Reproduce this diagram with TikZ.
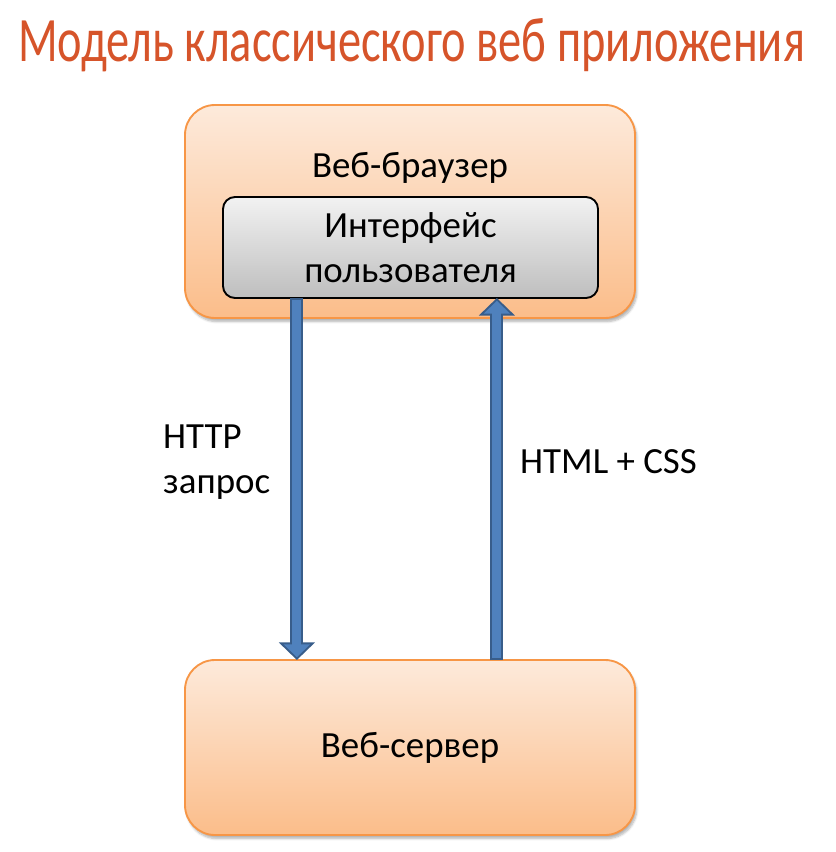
\documentclass[tikz,border=0pt]{standalone}
\usepackage{fontspec}
\setmainfont{Carlito}
\usepackage{graphicx}
\usepackage{xcolor}
\usepackage{tikz}
\usetikzlibrary{arrows.meta}
\usetikzlibrary{calc, positioning, shadows.blur}

\definecolor{titlered}{HTML}{D6542A}
\definecolor{boxedge}{HTML}{F79646}
\definecolor{boxtop}{HTML}{FDEADB}
\definecolor{boxbottom}{HTML}{FBBD8A}
\definecolor{uitop}{HTML}{F2F2F2}
\definecolor{uibottom}{HTML}{BEBEBE}
\definecolor{arrowfill}{HTML}{4F81BD}
\definecolor{arrowedge}{HTML}{385D8A}

\tikzset{
    orangebox/.style={draw=boxedge, line width=1.6pt, rounded corners=0.9cm,
        top color=boxtop, bottom color=boxbottom, outer sep=0pt,
        minimum width=13.5cm,
        blur shadow={shadow xshift=1.5pt, shadow yshift=-3pt, shadow opacity=30, shadow blur steps=6}},
    uibox/.style={draw=black, line width=1.6pt, rounded corners=0.36cm,
        top color=uitop, bottom color=uibottom, outer sep=0pt,
        minimum width=11.25cm, minimum height=3.03cm, align=center},
    blockarrow/.style={line width=11pt, draw=arrowedge,
        -{Triangle[length=15pt, width=30pt]},
        postaction={draw=arrowfill, line width=7.6pt, shorten >=2.4pt, shorten <=1.6pt,
            -{Triangle[length=11pt, width=22pt]}}},
    lbl/.style={font=\fontsize{31.5}{38}\selectfont}
}

\begin{document}
\begin{tikzpicture}[x=0.03cm, y=-0.03cm]
        \useasboundingbox (0,0) rectangle (835,852);

        % Заголовок
        \node[anchor=base, text=titlered, inner sep=0pt, font=\fontsize{54}{60}\selectfont]
            (title) at (411.5,62) {\resizebox{23.6cm}{\height}{Модель классического веб приложения}};

        % Блоки
        \node[orangebox, minimum height=6.39cm] (browser) at (410,211.5) {};
        \node[lbl] (browsername) at (410,168) {Веб-браузер};
        \node[uibox, lbl] (ui) at (410.5,247.5) {Интерфейс\\пользователя};
        \node[orangebox, minimum height=5.25cm, lbl] (server) at (410,747.5) {Веб-сервер};

        % Стрелки
        \draw[blockarrow] ($(ui.south west)!0.197!(ui.south east)$) coordinate (reqstart)
            -- (reqstart |- server.north);
        \draw[blockarrow] ($(server.north west)!0.693!(server.north east)$) coordinate (respstart)
            -- (respstart |- ui.south);

        % Подписи
        \node[lbl, anchor=west, align=left, inner sep=0pt] (reqlabel) at (163,462) {HTTP\\запрос};
        \node[lbl, anchor=west, inner sep=0pt] (resplabel) at (520,462) {HTML + CSS};
    \end{tikzpicture}
\end{document}
